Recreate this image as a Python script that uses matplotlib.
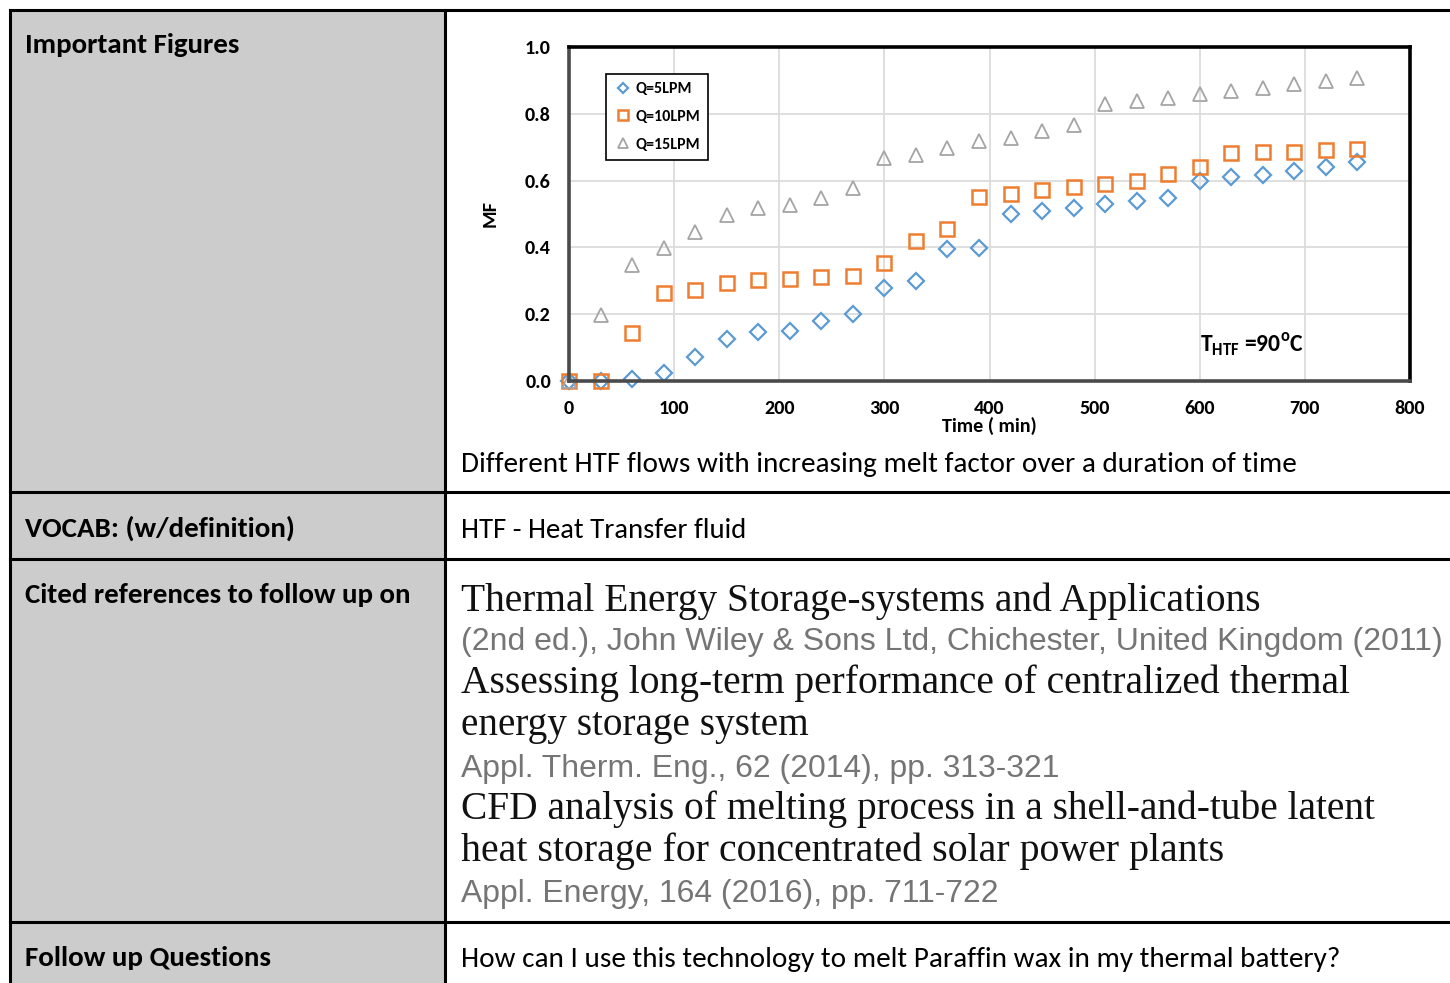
import matplotlib
matplotlib.use('Agg')
import matplotlib.pyplot as plt
from matplotlib import font_manager
from matplotlib.patches import Rectangle

# melt factor vs time
time_min = [0, 30, 60, 90, 120, 150, 180, 210, 240, 270, 300, 330, 360,
            390, 420, 450, 480, 510, 540, 570, 600, 630, 660, 690, 720, 750]
mf_5lpm = [0.0, 0.0, 0.005, 0.025, 0.071, 0.126, 0.148, 0.15, 0.18, 0.2,
           0.279, 0.3, 0.394, 0.399, 0.499, 0.509, 0.519, 0.53, 0.539, 0.549,
           0.599, 0.61, 0.618, 0.629, 0.64, 0.657]
mf_10lpm = [0.0, 0.0, 0.143, 0.264, 0.272, 0.294, 0.302, 0.304, 0.312, 0.315,
            0.352, 0.42, 0.454, 0.55, 0.561, 0.571, 0.581, 0.591, 0.6, 0.62,
            0.642, 0.684, 0.685, 0.685, 0.692, 0.695]
mf_15lpm = [0.0, 0.197, 0.347, 0.398, 0.447, 0.497, 0.517, 0.527, 0.547, 0.577,
            0.667, 0.677, 0.697, 0.718, 0.728, 0.748, 0.766, 0.829, 0.839, 0.848,
            0.858, 0.868, 0.876, 0.888, 0.898, 0.906]
series_labels = ['Q=5LPM', 'Q=10LPM', 'Q=15LPM']
x_ticks = [0, 100, 200, 300, 400, 500, 600, 700, 800]
y_ticks = [0.0, 0.2, 0.4, 0.6, 0.8, 1.0]

row_labels = ['Important Figures', 'VOCAB: (w/definition)',
              'Cited references to follow up on', 'Follow up Questions']
figure_caption = 'Different HTF flows with increasing melt factor over a duration of time'
vocab_text = 'HTF - Heat Transfer fluid'
ref_titles = [['Thermal Energy Storage-systems and Applications'],
              ['Assessing long-term performance of centralized thermal',
               'energy storage system'],
              ['CFD analysis of melting process in a shell-and-tube latent',
               'heat storage for concentrated solar power plants']]
ref_sources = ['(2nd ed.), John Wiley & Sons Ltd, Chichester, United Kingdom (2011)',
               'Appl. Therm. Eng., 62 (2014), pp. 313-321',
               'Appl. Energy, 164 (2016), pp. 711-722']
question_text = 'How can I use this technology to melt Paraffin wax in my thermal battery?'

names = {f.name for f in font_manager.fontManager.ttflist}


def pick(*cands):
    for c in cands:
        if c in names:
            return c
    return 'DejaVu Sans'


sans = pick('Carlito', 'Lato', 'Open Sans')
serif = pick('Liberation Serif', 'DejaVu Serif')
narrow = pick('Liberation Sans Narrow', 'Liberation Sans', 'Arimo')

plt.rcParams['mathtext.fontset'] = 'custom'
plt.rcParams['mathtext.rm'] = sans
plt.rcParams['mathtext.bf'] = sans + ':bold'

fig = plt.figure(figsize=(14.5, 9.83), dpi=100)
fig.patch.set_facecolor('white')
renderer = fig.canvas.get_renderer()

# page / table background in pixel coords
bg = fig.add_axes([0, 0, 1, 1], zorder=0)
bg.set_xlim(0, 1450)
bg.set_ylim(983, 0)
bg.axis('off')
bg.add_patch(Rectangle((10, 10), 435, 973, fc='#cccccc', ec='none'))
lw = 2.2
bg.plot([10, 1450], [10, 10], color='black', lw=lw)
bg.plot([10, 10], [10, 983], color='black', lw=lw)
bg.plot([445, 445], [10, 983], color='black', lw=lw)
for yy in [492, 559, 922]:
    bg.plot([10, 1450], [yy, yy], color='black', lw=lw)


def put(x, y, s, width, **kw):
    t = bg.text(x, y, s, ha='left', va='baseline', fontsize=20, **kw)
    w = t.get_window_extent(renderer).width
    t.set_fontsize(20 * width / w)
    return t


# left column labels
for lab, yb, w in zip(row_labels, [53, 537, 603, 966], [215, 271, 386, 246]):
    put(25, yb, lab, w, family=sans, weight='bold', color='black')

put(461, 472, figure_caption, 831, family=sans, color='black')
put(461, 538, vocab_text, 285, family=sans, color='black')

# references
title_base = [[611], [693, 735], [819, 861]]
title_w = [[801], [889, 348], [914, 763]]
src_base = [650, 777, 902]
src_w = [979, 597, 537]
for lines, bases, ws, src, sb, sw in zip(ref_titles, title_base, title_w,
                                          ref_sources, src_base, src_w):
    for ln, yb, w in zip(lines, bases, ws):
        put(461, yb, ln, w, family=serif, color='#111111')
    put(461, sb, src, sw, family=narrow, color='#757575')

put(461, 967, question_text, 875, family=sans, color='black')

# embedded chart
ax = fig.add_axes([569 / 1450, 1 - 381 / 983, 841 / 1450, 334 / 983], zorder=2)
ax.set_facecolor('white')
ax.plot(time_min, mf_5lpm, ls='none', marker='D', ms=8, mfc='none',
        mec='#5B9BD5', mew=1.6, label=series_labels[0], clip_on=False)
ax.plot(time_min, mf_10lpm, ls='none', marker='s', ms=9.5, mfc='none',
        mec='#ED7D31', mew=1.8, label=series_labels[1], clip_on=False)
ax.plot(time_min, mf_15lpm, ls='none', marker='^', ms=9.5, mfc='none',
        mec='#A5A5A5', mew=1.3, label=series_labels[2], clip_on=False)
ax.set_xlim(0, 800)
ax.set_ylim(0, 1.0)
ax.set_xticks(x_ticks)
ax.set_yticks(y_ticks)
ax.set_yticklabels(['{:.1f}'.format(v) for v in y_ticks])
ax.grid(True, color='#dcdcdc', lw=1.3)
ax.set_axisbelow(True)
ax.tick_params(axis='y', length=0, pad=13, labelsize=14.5)
ax.tick_params(axis='x', length=0, pad=13.5, labelsize=14.5)
for lab in ax.get_xticklabels() + ax.get_yticklabels():
    lab.set_family(sans)
    lab.set_fontweight('bold')
for side in ['top', 'right']:
    ax.spines[side].set_color('black')
    ax.spines[side].set_linewidth(2.6)
for side in ['left', 'bottom']:
    ax.spines[side].set_color('#4a4a4a')
    ax.spines[side].set_linewidth(2.6)

ax.set_xlabel('Time ( min)', family=sans, weight='bold', fontsize=14.5, labelpad=0)
ax.set_ylabel('MF', family=sans, weight='bold', fontsize=14.5)
ax.yaxis.set_label_coords((499 - 569) / 841, 0.5)

leg = ax.legend(loc='upper left', bbox_to_anchor=(0.044, 0.919), borderaxespad=0,
                frameon=True, fancybox=False, framealpha=1, edgecolor='black',
                prop={'family': sans, 'weight': 'bold', 'size': 11.5},
                markerscale=0.7, handlelength=1.1, handletextpad=0.25,
                labelspacing=0.85, borderpad=0.5)
leg.get_frame().set_linewidth(1.2)

ax.text(600, 0.108, r'T$_{\mathbf{HTF}}$ =90$^{\mathbf{o}}$C', family=sans,
        weight='bold', fontsize=17, ha='left', va='center')

fig.savefig('out.png', dpi=100)
